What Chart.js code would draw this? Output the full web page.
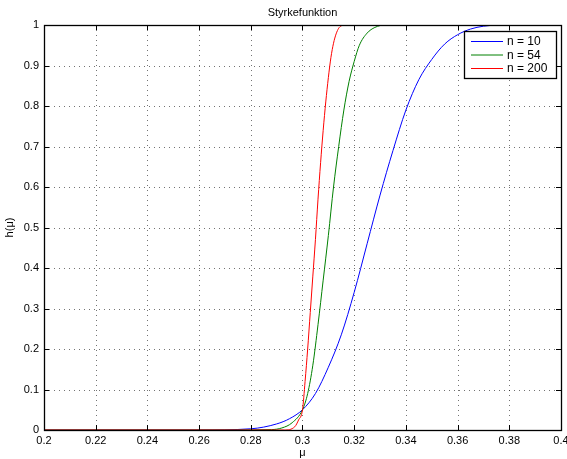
<!DOCTYPE html>
<html>
<head>
<meta charset="utf-8">
<script src="https://cdn.jsdelivr.net/npm/chart.js@4/dist/chart.umd.min.js"></script>
<style>
  html, body { margin: 0; padding: 0; background: #fff; }
  #wrap { width: 567px; height: 459px; }
</style>
</head>
<body>
<div id="wrap"><canvas id="graf" width="567" height="459"></canvas></div>
<script>
// Styrkefunktion h(mu) for tre stickprovsstorlekar

const titel = 'Styrkefunktion';
const xEtikett = 'μ';
const yEtikett = 'h(μ)';

const xTicks = [0.2, 0.22, 0.24, 0.26, 0.28, 0.3, 0.32, 0.34, 0.36, 0.38, 0.4];
const yTicks = [0, 0.1, 0.2, 0.3, 0.4, 0.5, 0.6, 0.7, 0.8, 0.9, 1];

const serieNamn = ['n = 10', 'n = 54', 'n = 200'];
const serieFarg = ['#0000ff', '#008000', '#ff0000'];

// n = 10
const mu10 = [0.2, 0.26, 0.28, 0.29, 0.295, 0.3, 0.305, 0.31, 0.315, 0.32, 0.325, 0.33,
  0.335, 0.34, 0.345, 0.35, 0.355, 0.36, 0.365, 0.37, 0.375, 0.38, 0.4];
const h10 = [0, 0, 0.003, 0.015, 0.028, 0.05, 0.09, 0.155, 0.235, 0.34, 0.46, 0.58,
  0.69, 0.79, 0.865, 0.915, 0.953, 0.976, 0.99, 0.997, 0.9995, 1, 1];

// n = 54
const mu54 = [0.2, 0.272, 0.288, 0.292, 0.296, 0.3, 0.302, 0.304, 0.306, 0.308, 0.31, 0.312,
  0.314, 0.316, 0.318, 0.32, 0.322, 0.325, 0.328, 0.332, 0.4];
const h54 = [0, 0, 0.001, 0.005, 0.018, 0.05, 0.09, 0.16, 0.26, 0.37, 0.48, 0.6,
  0.7, 0.79, 0.86, 0.91, 0.95, 0.98, 0.994, 1, 1];

// n = 200
const mu200 = [0.2, 0.293, 0.297, 0.2985, 0.3, 0.301, 0.302, 0.303, 0.304, 0.305, 0.306,
  0.307, 0.308, 0.309, 0.31, 0.311, 0.312, 0.313, 0.314, 0.315, 0.3165, 0.4];
const h200 = [0, 0, 0.008, 0.025, 0.05, 0.12, 0.2, 0.29, 0.38, 0.47, 0.57,
  0.66, 0.74, 0.81, 0.87, 0.92, 0.955, 0.978, 0.992, 0.998, 1, 1];

const FONT = '"Liberation Sans", Arial, Helvetica, sans-serif';

function punkter(xs, ys) {
  return xs.map((x, i) => ({ x: x, y: ys[i] }));
}

function fmt(v) {
  return String(Number(v.toFixed(2)));
}

// ritar ram, prickat rutnät, inåtriktade streck, titlar och legend (MATLAB-stil)
const matlabStil = {
  id: 'matlabStil',
  beforeDatasetsDraw(chart) {
    const ctx = chart.ctx;
    const a = chart.chartArea;
    const sx = chart.scales.x, sy = chart.scales.y;
    ctx.save();
    ctx.strokeStyle = 'rgba(0,0,0,0.55)';
    ctx.lineWidth = 1;
    ctx.setLineDash([1, 4]);
    xTicks.slice(1, -1).forEach(v => {
      const px = Math.round(sx.getPixelForValue(v)) + 0.5;
      ctx.beginPath(); ctx.moveTo(px, a.top); ctx.lineTo(px, a.bottom); ctx.stroke();
    });
    yTicks.slice(1, -1).forEach(v => {
      const py = Math.round(sy.getPixelForValue(v)) + 0.5;
      ctx.beginPath(); ctx.moveTo(a.left, py); ctx.lineTo(a.right, py); ctx.stroke();
    });
    ctx.restore();
  },
  afterDatasetsDraw(chart) {
    const ctx = chart.ctx;
    const a = chart.chartArea;
    const sx = chart.scales.x, sy = chart.scales.y;
    ctx.save();
    ctx.setLineDash([]);
    ctx.strokeStyle = '#000';
    ctx.lineWidth = 1;
    // streck inåt
    const L = 5;
    xTicks.forEach(v => {
      const px = Math.round(sx.getPixelForValue(v)) + 0.5;
      ctx.beginPath();
      ctx.moveTo(px, a.bottom); ctx.lineTo(px, a.bottom - L);
      ctx.moveTo(px, a.top); ctx.lineTo(px, a.top + L);
      ctx.stroke();
    });
    yTicks.forEach(v => {
      const py = Math.round(sy.getPixelForValue(v)) + 0.5;
      ctx.beginPath();
      ctx.moveTo(a.left, py); ctx.lineTo(a.left + L, py);
      ctx.moveTo(a.right, py); ctx.lineTo(a.right - L, py);
      ctx.stroke();
    });
    // ram
    ctx.lineWidth = 1.3;
    ctx.strokeRect(Math.round(a.left) + 0.5, Math.round(a.top) + 0.5,
      Math.round(a.right - a.left), Math.round(a.bottom - a.top));

    // titel och axeletiketter
    ctx.fillStyle = '#000';
    ctx.font = '11px ' + FONT;
    ctx.textAlign = 'center';
    ctx.textBaseline = 'middle';
    ctx.fillText(titel, (a.left + a.right) / 2, 13);
    ctx.fillText(xEtikett, (a.left + a.right) / 2, 453);
    ctx.save();
    ctx.translate(10, (a.top + a.bottom) / 2);
    ctx.rotate(-Math.PI / 2);
    ctx.fillText(yEtikett, 0, 0);
    ctx.restore();

    // legend
    const bx = 464.5, by = 31.5, bw = 92, bh = 47;
    ctx.fillStyle = '#fff';
    ctx.fillRect(bx, by, bw, bh);
    ctx.strokeStyle = '#000';
    ctx.lineWidth = 1.3;
    ctx.strokeRect(bx, by, bw, bh);
    const rader = [41, 54.5, 68];
    ctx.textAlign = 'left';
    ctx.font = '12px ' + FONT;
    serieNamn.forEach((namn, i) => {
      ctx.strokeStyle = serieFarg[i];
      ctx.lineWidth = 1;
      ctx.beginPath();
      ctx.moveTo(471, rader[i] + 0.5); ctx.lineTo(503, rader[i] + 0.5);
      ctx.stroke();
      ctx.fillStyle = '#000';
      ctx.fillText(namn, 507, rader[i] + 1);
    });
    ctx.restore();
  }
};

const ctx = document.getElementById('graf').getContext('2d');

new Chart(ctx, {
  type: 'scatter',
  data: {
    datasets: [
      { label: serieNamn[0], data: punkter(mu10, h10), borderColor: serieFarg[0], order: 3 },
      { label: serieNamn[1], data: punkter(mu54, h54), borderColor: serieFarg[1], order: 2 },
      { label: serieNamn[2], data: punkter(mu200, h200), borderColor: serieFarg[2], order: 1 }
    ].map(d => Object.assign(d, {
      showLine: true,
      borderWidth: 1,
      pointRadius: 0,
      pointHoverRadius: 0,
      cubicInterpolationMode: 'monotone',
      fill: false
    }))
  },
  options: {
    responsive: false,
    animation: false,
    layout: { autoPadding: false, padding: { top: 25, right: 6, left: 0, bottom: 0 } },
    plugins: {
      legend: { display: false },
      tooltip: { enabled: false },
      title: { display: false }
    },
    scales: {
      x: {
        type: 'linear',
        min: 0.2,
        max: 0.4,
        afterBuildTicks: s => { s.ticks = xTicks.map(v => ({ value: v })); },
        afterFit: s => { s.height = 29; s.paddingLeft = 0; s.paddingRight = 0; },
        grid: { display: false, drawTicks: false },
        border: { display: false },
        ticks: {
          color: '#000',
          font: { family: FONT, size: 11 },
          padding: 4,
          maxRotation: 0,
          autoSkip: false,
          callback: v => fmt(v)
        }
      },
      y: {
        type: 'linear',
        min: 0,
        max: 1,
        afterBuildTicks: s => { s.ticks = yTicks.map(v => ({ value: v })); },
        afterFit: s => { s.width = 44; s.paddingTop = 0; s.paddingBottom = 0; },
        grid: { display: false, drawTicks: false },
        border: { display: false },
        ticks: {
          color: '#000',
          font: { family: FONT, size: 11 },
          padding: 5,
          autoSkip: false,
          callback: v => fmt(v)
        }
      }
    }
  },
  plugins: [matlabStil]
});
</script>
</body>
</html>
